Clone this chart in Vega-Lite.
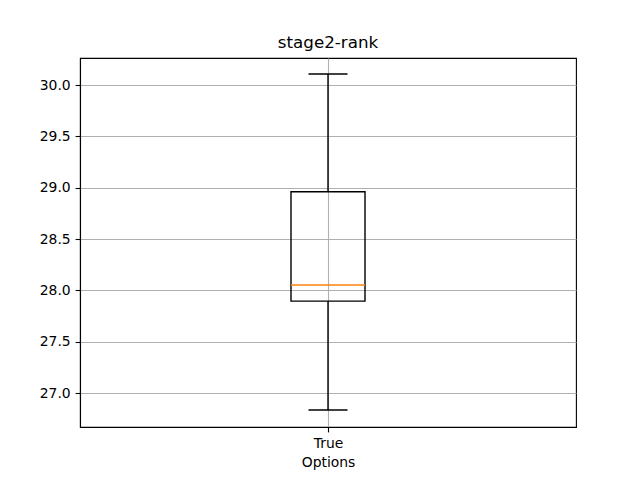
{
  "$schema": "https://vega.github.io/schema/vega-lite/v6.json",
  "width": 496,
  "height": 369,
  "autosize": {"type": "none"},
  "padding": {"left": 80, "top": 58, "right": 64, "bottom": 53},
  "background": "white",
  "title": {"text": "stage2-rank", "font": "DejaVu Sans", "fontSize": 16.7, "fontWeight": "normal", "color": "black", "offset": 6},
  "config": {
    "view": {"stroke": "black", "strokeWidth": 1.1},
    "axis": {
      "labelFont": "DejaVu Sans", "labelFontSize": 13.9, "labelColor": "black",
      "titleFont": "DejaVu Sans", "titleFontSize": 13.9, "titleFontWeight": "normal", "titleColor": "black",
      "domainColor": "black", "domainWidth": 1.1, "tickColor": "black", "tickWidth": 1.1, "tickSize": 4.9, "labelPadding": 4.9,
      "gridColor": "#b0b0b0", "gridWidth": 1.1, "gridOpacity": 1
    }
  },
  "data": {"values": [
    {"Options": "True", "lo": 26.834, "q1": 27.895, "med": 28.052, "q3": 28.96, "hi": 30.107}
  ]},
  "encoding": {
    "x": {"field": "Options", "type": "nominal", "scale": {"type": "point", "padding": 0.5},
          "axis": {"title": "Options", "labelAngle": 0, "grid": true, "titlePadding": 4.5}}
  },
  "layer": [
    {
      "mark": {"type": "rule", "color": "black", "strokeWidth": 1.4},
      "encoding": {
        "y": {"field": "q3", "type": "quantitative", "scale": {"domain": [26.669, 30.263], "nice": false, "zero": false},
              "axis": {"title": null, "values": [27, 27.5, 28, 28.5, 29, 29.5, 30], "format": ".1f", "grid": true}},
        "y2": {"field": "hi"}
      }
    },
    {
      "mark": {"type": "rule", "color": "black", "strokeWidth": 1.4},
      "encoding": {"y": {"field": "lo", "type": "quantitative"}, "y2": {"field": "q1"}}
    },
    {
      "mark": {"type": "bar", "size": 74, "fill": "transparent", "stroke": "black", "strokeWidth": 1.4},
      "encoding": {"y": {"field": "q1", "type": "quantitative"}, "y2": {"field": "q3"}}
    },
    {
      "mark": {"type": "tick", "orient": "horizontal", "size": 39, "thickness": 1.4, "color": "black", "opacity": 1},
      "encoding": {"y": {"field": "hi", "type": "quantitative"}}
    },
    {
      "mark": {"type": "tick", "orient": "horizontal", "size": 39, "thickness": 1.4, "color": "black", "opacity": 1},
      "encoding": {"y": {"field": "lo", "type": "quantitative"}}
    },
    {
      "mark": {"type": "tick", "orient": "horizontal", "size": 74, "thickness": 1.4, "color": "#ff7f0e", "opacity": 1},
      "encoding": {"y": {"field": "med", "type": "quantitative"}}
    }
  ]
}
